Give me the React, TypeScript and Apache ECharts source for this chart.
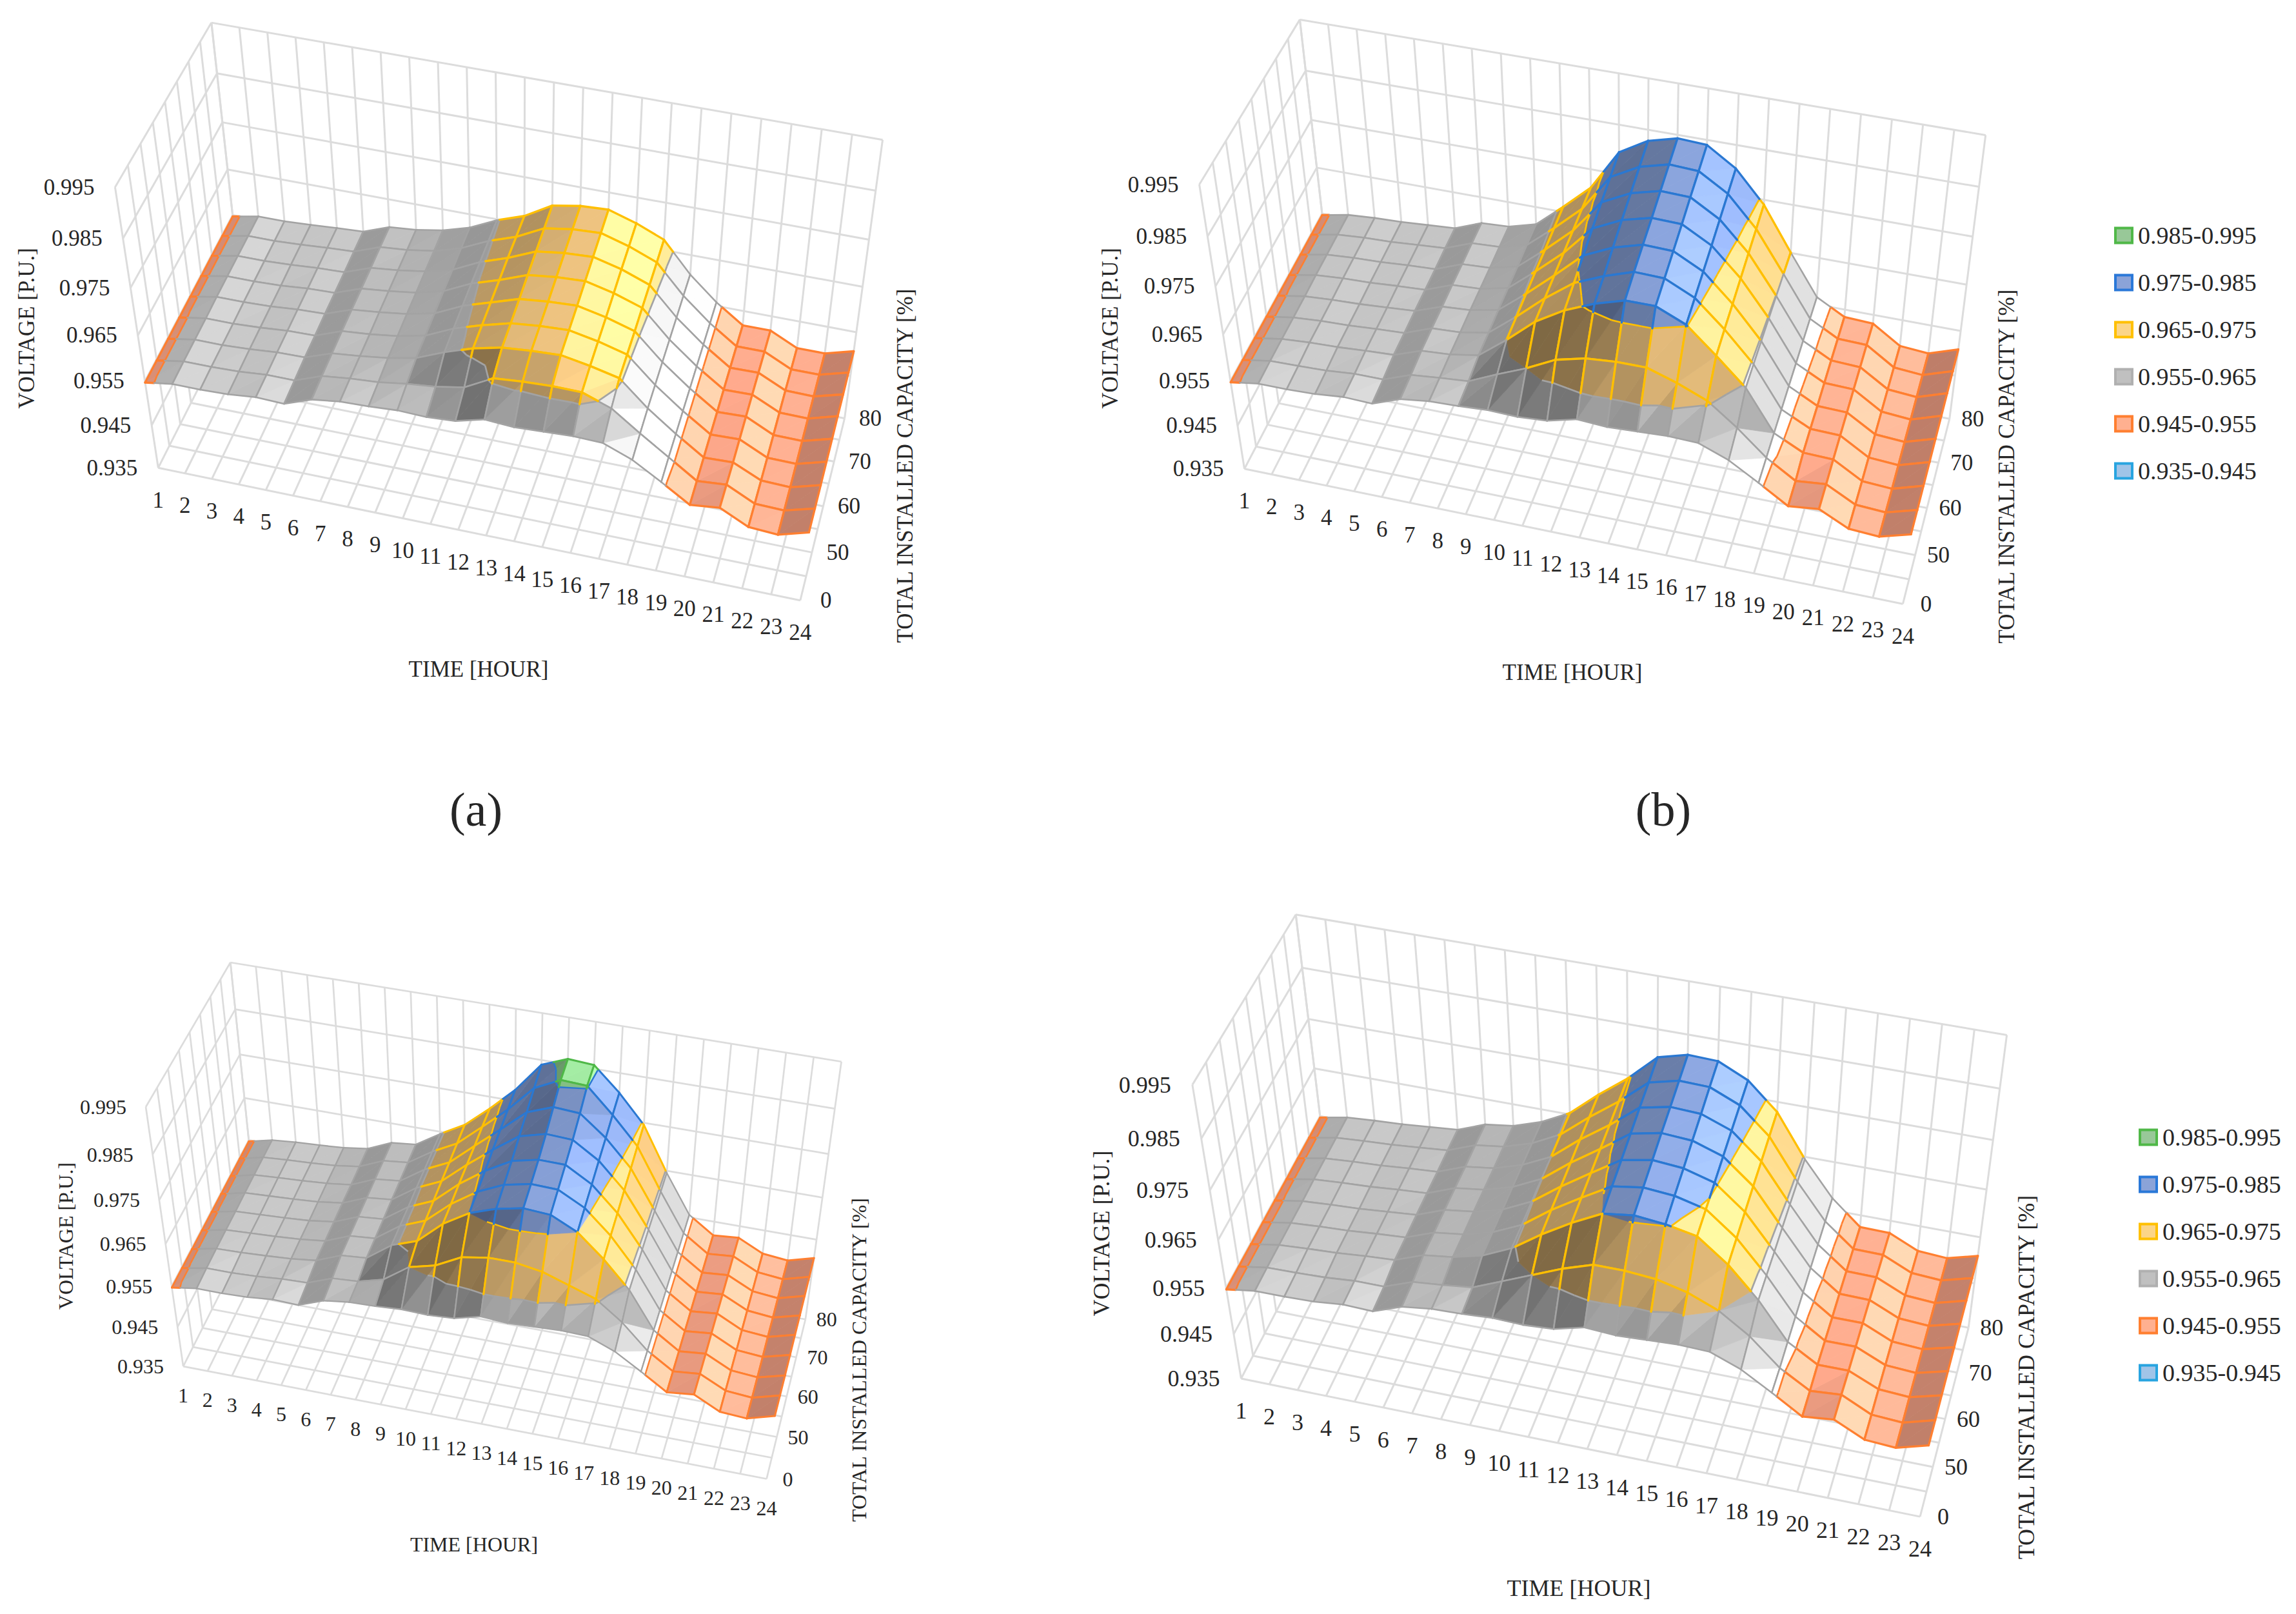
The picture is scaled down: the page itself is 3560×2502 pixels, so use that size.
import React, { useEffect, useRef } from "react";
import * as echarts from "echarts";

const hours = ["1","2","3","4","5","6","7","8","9","10","11","12","13","14","15","16","17","18","19","20","21","22","23","24"];
const capacityLabels = ["0","","50","","60","","70","","80"];
const voltageTicks = ["0.935","0.945","0.955","0.965","0.975","0.985","0.995"];
const bandNames = ["0.985-0.995","0.975-0.985","0.965-0.975","0.955-0.965","0.945-0.955","0.935-0.945"];

// surface values x 10000, rows from capacity index 0 (front) to 8 (back)
const baseRow = [9547,9556,9556,9558,9564,9562,9584,9592,9594,9598,9596,9600,9616,9612,9615,9618,9616,9592,9556,9518,9525,9495,9491,9510];

const voltageA = [
  baseRow,
  [9547,9557,9557,9559,9564,9564,9586,9593,9597,9606,9612,9623,9655,9660,9663,9662,9640,9598,9558,9518,9523,9493,9491,9509],
  [9547,9557,9557,9560,9565,9566,9587,9593,9601,9613,9638,9658,9672,9677,9680,9669,9655,9602,9558,9518,9520,9492,9490,9508],
  [9547,9557,9557,9560,9565,9566,9588,9593,9601,9614,9641,9660,9676,9682,9685,9673,9657,9603,9558,9518,9520,9491,9490,9508],
  [9547,9558,9558,9560,9565,9567,9588,9594,9602,9615,9643,9662,9681,9687,9690,9677,9659,9604,9558,9518,9520,9491,9490,9508],
  [9547,9558,9558,9560,9565,9567,9588,9594,9602,9617,9645,9664,9686,9693,9696,9682,9662,9605,9558,9518,9519,9491,9490,9508],
  [9547,9558,9558,9561,9565,9567,9588,9594,9603,9618,9646,9666,9691,9699,9702,9687,9665,9606,9558,9518,9519,9491,9490,9507],
  [9547,9558,9558,9561,9565,9568,9589,9594,9603,9620,9647,9667,9696,9705,9708,9691,9668,9607,9558,9518,9518,9490,9490,9507],
  [9547,9558,9558,9561,9565,9568,9589,9594,9604,9621,9648,9668,9701,9711,9714,9696,9672,9608,9558,9518,9518,9490,9490,9507],
];
const voltageB = [
  baseRow,
  [9547,9557,9558,9560,9565,9565,9587,9593,9598,9625,9650,9680,9695,9700,9700,9680,9655,9610,9558,9520,9526,9494,9490,9509],
  [9547,9557,9561,9563,9567,9570,9591,9595,9605,9650,9700,9735,9760,9778,9778,9752,9700,9645,9560,9530,9528,9493,9489,9509],
  [9547,9557,9561,9563,9567,9570,9592,9595,9606,9652,9702,9745,9770,9790,9788,9760,9707,9646,9561,9531,9529,9493,9489,9509],
  [9547,9557,9561,9563,9567,9571,9592,9596,9608,9654,9704,9756,9783,9800,9798,9768,9713,9647,9562,9531,9529,9493,9489,9509],
  [9547,9558,9562,9564,9568,9571,9593,9596,9609,9656,9706,9767,9795,9810,9808,9776,9720,9648,9563,9532,9530,9493,9488,9509],
  [9547,9558,9562,9564,9568,9571,9593,9596,9610,9657,9708,9777,9806,9821,9819,9785,9727,9649,9564,9533,9530,9493,9488,9509],
  [9547,9558,9562,9564,9568,9572,9594,9597,9612,9659,9710,9786,9817,9832,9829,9794,9733,9650,9565,9533,9531,9493,9488,9509],
  [9547,9558,9562,9564,9568,9572,9594,9597,9613,9661,9712,9795,9828,9843,9840,9803,9740,9651,9566,9534,9531,9493,9488,9509],
];
const voltageC = [
  baseRow,
  [9547,9558,9558,9561,9566,9568,9590,9594,9610,9650,9665,9695,9705,9705,9695,9675,9655,9612,9556,9518,9524,9495,9490,9508],
  [9547,9559,9561,9564,9568,9575,9598,9603,9644,9665,9715,9750,9770,9782,9778,9750,9700,9640,9556,9517,9523,9494,9489,9506],
  [9547,9559,9562,9565,9569,9576,9599,9604,9644,9667,9716,9754,9780,9792,9790,9760,9708,9641,9556,9517,9523,9494,9489,9506],
  [9547,9559,9562,9565,9569,9577,9600,9605,9644,9669,9718,9758,9790,9803,9802,9769,9715,9642,9556,9517,9523,9494,9489,9506],
  [9547,9560,9563,9566,9570,9578,9601,9607,9645,9671,9719,9763,9803,9818,9815,9779,9723,9643,9556,9517,9522,9494,9488,9505],
  [9547,9560,9564,9567,9571,9578,9602,9608,9645,9672,9720,9767,9815,9836,9832,9788,9730,9643,9556,9517,9522,9494,9488,9505],
  [9547,9560,9564,9567,9571,9579,9603,9609,9645,9674,9722,9771,9828,9855,9852,9798,9738,9644,9556,9517,9522,9494,9488,9505],
  [9547,9560,9565,9568,9572,9580,9604,9610,9645,9676,9723,9775,9840,9862,9858,9807,9745,9645,9556,9517,9522,9494,9488,9505],
];
const voltageD = [
  baseRow,
  [9547,9557,9558,9560,9565,9565,9587,9593,9600,9625,9650,9675,9695,9695,9690,9675,9650,9610,9556,9520,9525,9495,9491,9510],
  [9547,9557,9561,9564,9569,9573,9595,9603,9618,9645,9685,9720,9750,9758,9752,9740,9695,9635,9560,9524,9524,9497,9493,9510],
  [9547,9557,9561,9564,9569,9573,9595,9603,9619,9646,9688,9724,9758,9767,9762,9747,9701,9637,9563,9524,9524,9497,9493,9510],
  [9547,9557,9561,9564,9569,9574,9596,9604,9620,9648,9690,9728,9765,9776,9771,9754,9707,9638,9565,9524,9524,9497,9493,9510],
  [9547,9558,9562,9565,9570,9574,9596,9604,9621,9649,9693,9732,9773,9785,9781,9761,9713,9640,9568,9525,9524,9497,9493,9510],
  [9547,9558,9562,9565,9570,9574,9596,9604,9622,9650,9696,9736,9781,9793,9790,9768,9718,9642,9570,9525,9524,9497,9493,9510],
  [9547,9558,9562,9565,9570,9575,9597,9605,9623,9652,9698,9740,9788,9802,9800,9775,9724,9643,9572,9525,9524,9497,9493,9510],
  [9547,9558,9562,9565,9570,9575,9597,9605,9624,9653,9701,9744,9796,9811,9809,9782,9730,9645,9575,9525,9524,9497,9493,9510],
];

type V3 = [number, number, number];
const TEXT = "#262626";
const SERIF = "'Liberation Serif', serif";

// band table low to high
const BANDS = [
  { lo: 0.935, hi: 0.945, fill: [160, 196, 232], line: "#28a4e0" },
  { lo: 0.945, hi: 0.955, fill: [255, 169, 140], line: "#ff7f30" },
  { lo: 0.955, hi: 0.965, fill: [208, 208, 208], line: "#a3a3a3" },
  { lo: 0.965, hi: 0.975, fill: [246, 202, 132], line: "#ffbf00" },
  { lo: 0.975, hi: 0.985, fill: [138, 164, 220], line: "#2a78d2" },
  { lo: 0.985, hi: 0.995, fill: [150, 216, 150], line: "#4fb848" },
];
const LEGEND_STYLE: any = {
  "0.985-0.995": { color: "#98c898", borderColor: "#50b848" },
  "0.975-0.985": { color: "#8ba3d8", borderColor: "#2a78d8" },
  "0.965-0.975": { color: "#fbd588", borderColor: "#ffc000" },
  "0.955-0.965": { color: "#c0c0c0", borderColor: "#b0b0b0" },
  "0.945-0.955": { color: "#ffb090", borderColor: "#ff7f30" },
  "0.935-0.945": { color: "#a0c4e8", borderColor: "#28a4e0" },
};

// box corners in page pixels
const PANELS = [
  { data: voltageA, font: 35, lw: 3,
    A: [324, 35], B: [1369, 217], C: [182, 290], D: [242, 725], E: [1241, 931], F: [1309, 648], H: [379, 468],
    tickDx: -32, hourDy: 50, capDx: 40,
    time: [742, 1037], volt: [41, 509], total: [1403, 722] },
  { data: voltageB, font: 35, lw: 3,
    A: [2011, 29], B: [3079, 210], C: [1864, 287], D: [1925, 725], E: [2951, 937], F: [3022, 648], H: [2070, 469],
    tickDx: -32, hourDy: 50, capDx: 36,
    time: [2438, 1042], volt: [1721, 509], total: [3111, 723] },
  { data: voltageC, font: 32, lw: 2.7,
    A: [356, 1488], B: [1304, 1648], C: [228, 1718], D: [282, 2113], E: [1189, 2296], F: [1249, 2040], H: [400, 1898],
    tickDx: -30, hourDy: 45, capDx: 33,
    time: [735, 2394], volt: [102, 1916], total: [1332, 2108] },
  { data: voltageD, font: 36, lw: 3,
    A: [2003, 1416], B: [3112, 1605], C: [1855, 1683], D: [1918, 2135], E: [2978, 2352], F: [3051, 2057], H: [2070, 1873],
    tickDx: -33, hourDy: 50, capDx: 36,
    time: [2448, 2462], volt: [1708, 1912], total: [3142, 2135] },
];

function solve(M: number[][], b: number[]) {
  const n = b.length;
  const a = M.map((r, i) => [...r, b[i]]);
  for (let i = 0; i < n; i++) {
    let p = i;
    for (let k = i + 1; k < n; k++) if (Math.abs(a[k][i]) > Math.abs(a[p][i])) p = k;
    [a[i], a[p]] = [a[p], a[i]];
    for (let k = i + 1; k < n; k++) {
      const f = a[k][i] / a[i][i];
      for (let j = i; j <= n; j++) a[k][j] -= f * a[i][j];
    }
  }
  const x = new Array(n).fill(0);
  for (let i = n - 1; i >= 0; i--) {
    let s = a[i][n];
    for (let j = i + 1; j < n; j++) s -= a[i][j] * x[j];
    x[i] = s / a[i][i];
  }
  return x;
}

function makeProjection(p: any) {
  const pts: [V3, number[]][] = [
    [[0, 1, 1], p.A], [[1, 1, 1], p.B], [[0, 0, 1], p.C], [[0, 0, 0], p.D],
    [[1, 0, 0], p.E], [[1, 1, 0], p.F], [[0, 1, 0], p.H],
  ];
  const rows: number[][] = [];
  const rhs: number[] = [];
  for (const [w, q] of pts) {
    const u = q[0] / 1000, v = q[1] / 1000;
    rows.push([w[0], w[1], w[2], 1, 0, 0, 0, 0, -u * w[0], -u * w[1], -u * w[2]]);
    rhs.push(u);
    rows.push([0, 0, 0, 0, w[0], w[1], w[2], 1, -v * w[0], -v * w[1], -v * w[2]]);
    rhs.push(v);
  }
  const ata = Array.from({ length: 11 }, (_, i) =>
    Array.from({ length: 11 }, (_, j) => rows.reduce((s, r) => s + r[i] * r[j], 0) + (i === j ? 1e-10 : 0)));
  const atb = Array.from({ length: 11 }, (_, i) => rows.reduce((s, r, k) => s + r[i] * rhs[k], 0));
  const m = solve(ata, atb);
  return (t: number, c: number, v: number) => {
    const w = m[8] * t + m[9] * c + m[10] * v + 1;
    return [
      (1000 * (m[0] * t + m[1] * c + m[2] * v + m[3])) / w,
      (1000 * (m[4] * t + m[5] * c + m[6] * v + m[7])) / w,
    ];
  };
}

const normV = (V: number) => (V - 0.935) / 0.06;

function shade(fill: number[], s: number, sr: number) {
  let a: number;
  if (s > 0) a = 1.03 - 0.32 * Math.tanh(s / 1.5);
  else {
    a = 1.03 + 0.27 * Math.tanh(-s / 1.5);
    if (-s > 3) a -= 0.04 * (-s - 3);
  }
  const b = 1 - 0.28 * Math.max(0, Math.tanh((sr - 0.7) / 1.5));
  const k = a * b;
  return `rgb(${fill.map((x) => Math.min(255, Math.round(x * k))).join(",")})`;
}

function clipPoly(poly: V3[], lo: number, hi: number) {
  const clip = (pts: V3[], val: number, keepAbove: boolean) => {
    const out: V3[] = [];
    for (let i = 0; i < pts.length; i++) {
      const p = pts[i], q = pts[(i + 1) % pts.length];
      const pin = keepAbove ? p[2] >= val : p[2] <= val;
      const qin = keepAbove ? q[2] >= val : q[2] <= val;
      if (pin) out.push(p);
      if (pin !== qin) {
        const f = (val - p[2]) / (q[2] - p[2]);
        out.push([p[0] + f * (q[0] - p[0]), p[1] + f * (q[1] - p[1]), val]);
      }
    }
    return out;
  };
  let r = clip(poly, lo, true);
  if (r.length) r = clip(r, hi, false);
  return r;
}

function clipSegment(a: V3, b: V3, lo: number, hi: number): [V3, V3] | null {
  if (a[2] === b[2]) return a[2] >= lo && a[2] < hi ? [a, b] : null;
  let f0 = (lo - a[2]) / (b[2] - a[2]);
  let f1 = (hi - a[2]) / (b[2] - a[2]);
  if (f0 > f1) [f0, f1] = [f1, f0];
  f0 = Math.max(0, f0);
  f1 = Math.min(1, f1);
  if (f0 >= f1) return null;
  const at = (f: number): V3 => [a[0] + f * (b[0] - a[0]), a[1] + f * (b[1] - a[1]), a[2] + f * (b[2] - a[2])];
  return [at(f0), at(f1)];
}

function panelSeries(p: any, idx: number) {
  const proj = makeProjection(p);
  const toPx = (api: any, w: V3) => {
    const q = proj(w[0], w[1], normV(w[2]));
    return api.coord([q[0], q[1]]);
  };
  const vert = (h: number, r: number): V3 => [h / 23, r / 8, p.data[r][h] / 10000];

  // walls
  const wallLines: number[][] = [];
  for (let h = 0; h < 24; h++) {
    wallLines.push([h / 23, 1, 0, h / 23, 1, 1]);
    wallLines.push([h / 23, 0, 0, h / 23, 1, 0]);
  }
  for (let r = 0; r < 9; r++) {
    wallLines.push([0, r / 8, 0, 0, r / 8, 1]);
    wallLines.push([0, r / 8, 0, 1, r / 8, 0]);
  }
  for (let k = 1; k < 7; k++) {
    wallLines.push([0, 1, k / 6, 1, 1, k / 6]);
    wallLines.push([0, 0, k / 6, 0, 1, k / 6]);
  }
  const wallSeries = {
    type: "custom", coordinateSystem: "cartesian2d", silent: true, clip: false, z: 1,
    data: wallLines,
    renderItem: (_: any, api: any) => {
      const a = proj(api.value(0), api.value(1), api.value(2));
      const b = proj(api.value(3), api.value(4), api.value(5));
      const A = api.coord(a), B = api.coord(b);
      return { type: "line", shape: { x1: A[0], y1: A[1], x2: B[0], y2: B[1] }, style: { stroke: "#dcdcdc", lineWidth: p.lw, fill: "none" } };
    },
  };

  // back to front, left to right
  const cells: number[][] = [];
  for (let r = 7; r >= 0; r--) for (let h = 0; h < 23; h++) cells.push([h, r]);
  const surfaceSeries = {
    type: "custom", coordinateSystem: "cartesian2d", silent: true, clip: false, z: 2,
    data: cells,
    renderItem: (_: any, api: any) => {
      const h = api.value(0), r = api.value(1);
      const a = vert(h, r), b = vert(h + 1, r), c = vert(h, r + 1), d = vert(h + 1, r + 1);
      const children: any[] = [];
      const avgS = ((b[2] - a[2]) + (d[2] - c[2])) * 500;
      const avgR = ((c[2] - a[2]) + (d[2] - b[2])) * 500;
      const mixS = (x: number) => 0.6 * avgS + 0.4 * x;
      const mixR = (x: number) => 0.6 * avgR + 0.4 * x;
      const tris: [V3[], number, number][] = [
        [[a, b, d], mixS((b[2] - a[2]) * 1000), mixR((d[2] - b[2]) * 1000)],
        [[a, d, c], mixS((d[2] - c[2]) * 1000), mixR((c[2] - a[2]) * 1000)],
      ];
      for (const [tri, s, sr] of tris) {
        for (const band of BANDS) {
          const poly = clipPoly(tri, band.lo, band.hi);
          if (poly.length < 3) continue;
          const col = shade(band.fill, s, sr);
          children.push({
            type: "polygon",
            shape: { points: poly.map((w) => toPx(api, w)) },
            style: { fill: col, stroke: col, lineWidth: 0.8 },
          });
        }
      }
      // contour lines between bands, in the lower band's colour
      for (const [tri] of tris) {
        for (const band of BANDS) {
          const val = band.hi;
          const hits: V3[] = [];
          for (let i = 0; i < 3; i++) {
            const x = tri[i], y = tri[(i + 1) % 3];
            if ((x[2] - val) * (y[2] - val) < 0) {
              const f = (val - x[2]) / (y[2] - x[2]);
              hits.push([x[0] + f * (y[0] - x[0]), x[1] + f * (y[1] - x[1]), val]);
            }
          }
          if (hits.length === 2) {
            const A = toPx(api, hits[0]), B = toPx(api, hits[1]);
            children.push({ type: "line", shape: { x1: A[0], y1: A[1], x2: B[0], y2: B[1] }, style: { stroke: band.line, lineWidth: p.lw * 0.9, fill: "none" } });
          }
        }
      }
      for (const [u, w] of [[a, b], [c, d], [a, c], [b, d]] as [V3, V3][]) {
        for (const band of BANDS) {
          const seg = clipSegment(u, w, band.lo, band.hi);
          if (!seg) continue;
          const A = toPx(api, seg[0]), B = toPx(api, seg[1]);
          children.push({ type: "line", shape: { x1: A[0], y1: A[1], x2: B[0], y2: B[1] }, style: { stroke: band.line, lineWidth: band.lo === 0.955 ? p.lw * 0.85 : p.lw * 1.1, fill: "none", lineCap: "round" } });
        }
      }
      return { type: "group", children };
    },
  };

  // tick labels
  const labels: { text: string; w: V3; dx: number; dy: number; align: string }[] = [];
  voltageTicks.forEach((text, i) => labels.push({ text, w: [0, 0, i / 6], dx: p.tickDx, dy: 0, align: "right" }));
  hours.forEach((text, i) => labels.push({ text, w: [i / 23, 0, 0], dx: 0, dy: p.hourDy, align: "center" }));
  capacityLabels.forEach((text, i) => {
    if (text) labels.push({ text, w: [1, i / 8, 0], dx: p.capDx, dy: 0, align: "center" });
  });
  const labelSeries = {
    type: "custom", coordinateSystem: "cartesian2d", silent: true, clip: false, z: 3,
    data: labels.map((_, i) => [i, 0]),
    renderItem: (params: any, api: any) => {
      const l = labels[params.dataIndex];
      const q = api.coord(proj(l.w[0], l.w[1], l.w[2]));
      return {
        type: "text", x: q[0] + l.dx, y: q[1] + l.dy,
        style: { text: l.text, fill: TEXT, fontSize: p.font, fontFamily: SERIF, align: l.align, verticalAlign: "middle" },
      };
    },
  };
  return [wallSeries, surfaceSeries, labelSeries].map((s, k) => ({ ...s, id: `p${idx}s${k}` }));
}

function titleElements() {
  const els: any[] = [];
  const mk = (text: string, pos: number[], font: number, rot = 0) => ({
    type: "text", x: pos[0], y: pos[1], rotation: rot,
    style: { text, fill: TEXT, fontSize: font, fontFamily: SERIF, align: "center", verticalAlign: "middle" },
  });
  for (const p of PANELS) {
    els.push(mk("TIME [HOUR]", p.time, p.font));
    els.push(mk("VOLTAGE [P.U.]", p.volt, p.font, Math.PI / 2));
    els.push(mk("TOTAL INSTALLED CAPACITY [%]", p.total, p.font, Math.PI / 2));
  }
  els.push(mk("(a)", [738, 1255], 74));
  els.push(mk("(b)", [2579, 1255], 74));
  return els;
}

function legendAt(left: number, top: number) {
  return {
    orient: "vertical", left, top, padding: 0, itemGap: 35, itemWidth: 26, itemHeight: 23,
    selectedMode: false, icon: "rect",
    textStyle: { fontFamily: SERIF, fontSize: 38, color: TEXT, padding: [0, 0, 0, 4] },
    data: bandNames.map((name) => ({
      name, icon: "rect",
      itemStyle: { color: LEGEND_STYLE[name].color, borderColor: LEGEND_STYLE[name].borderColor, borderWidth: 4 },
    })),
  };
}

export default function App() {
  const ref = useRef<HTMLDivElement>(null);
  useEffect(() => {
    const chart = echarts.init(ref.current!, undefined, { renderer: "svg" });
    const series: any[] = [];
    PANELS.forEach((p, i) => series.push(...panelSeries(p, i)));
    bandNames.forEach((name) => series.push({
      type: "custom", name, coordinateSystem: "cartesian2d", data: [], renderItem: () => null,
      itemStyle: { color: LEGEND_STYLE[name].color, borderColor: LEGEND_STYLE[name].borderColor },
    }));
    chart.setOption({
      animation: false,
      backgroundColor: "#ffffff",
      grid: { left: 0, top: 0, width: 3560, height: 2502, containLabel: false },
      xAxis: { type: "value", min: 0, max: 3560, show: false },
      yAxis: { type: "value", min: 0, max: 2502, inverse: true, show: false },
      legend: [legendAt(3278, 346), legendAt(3316, 1744)],
      graphic: { elements: titleElements() },
      series,
    });
    return () => chart.dispose();
  }, []);
  return <div ref={ref} style={{ position: "absolute", left: 0, top: 0, width: 3560, height: 2502 }} />;
}
